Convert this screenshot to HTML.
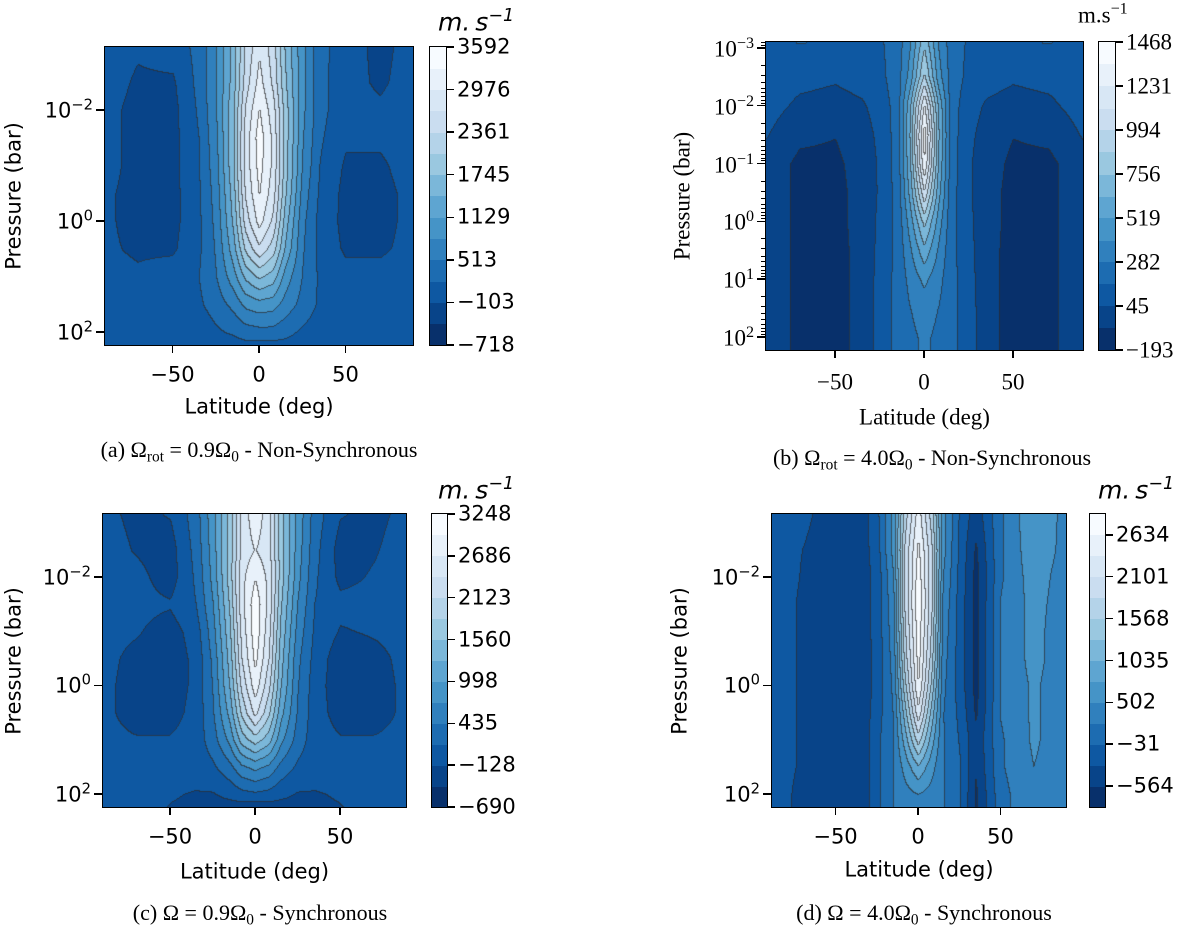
<!DOCTYPE html>
<html><head><meta charset="utf-8">
<style>
body{margin:0;width:1200px;height:926px;background:#fff;position:relative;overflow:hidden}
.t{position:absolute;white-space:nowrap;line-height:1;color:#000}
.dj{font-family:"DejaVu Sans","Liberation Sans",sans-serif}
.sf{font-family:"Liberation Serif","DejaVu Serif",serif}
sup{font-size:0.7em;vertical-align:0.55em;line-height:0}
sub{font-size:0.7em;vertical-align:-0.3em;line-height:0}
.ln{position:absolute;background:#000}
</style></head>
<body>
<div id="root"></div>
<script>
const latNodes=[-90,-70,-50,-35,-25,-15,-8,0,8,15,25,35,50,70,90];
const logpNodes=[-3.2,-2.5,-2,-1.5,-1,-0.5,0,0.5,1,1.5,2,2.3];

const windA=[
[50,-50,50,300,800,1600,2400,2900,2500,1700,900,300,50,-200,50],
[50,-150,-150,300,800,1600,2500,3100,2600,1800,900,300,0,-150,50],
[0,-200,-200,250,800,1700,2700,3300,2800,1900,900,300,0,-50,50],
[0,-200,-200,200,750,1700,2800,3450,2900,1900,850,250,-50,-50,50],
[0,-200,-200,200,700,1700,2800,3400,2900,1900,800,200,-150,-150,50],
[-50,-200,-200,150,650,1600,2700,3300,2800,1800,700,150,-200,-200,0],
[-50,-200,-200,150,600,1500,2500,3100,2600,1600,600,100,-200,-200,0],
[-50,-150,-150,150,550,1300,2100,2600,2200,1400,550,100,-150,-150,0],
[0,-50,50,200,500,1000,1500,1800,1600,1000,500,150,0,0,50],
[50,50,50,150,350,600,900,1000,950,700,400,150,50,50,50],
[50,50,0,0,150,250,350,400,400,300,150,50,50,50,50],
[50,50,50,-50,-50,0,50,0,0,50,50,50,50,50,50]];
const windB=[
[150,180,170,120,150,220,380,700,380,220,150,120,170,180,150],
[120,80,60,90,130,230,450,900,450,230,130,90,60,80,120],
[100,20,0,30,90,220,620,1250,620,220,90,30,0,20,100],
[60,-50,-70,0,70,220,650,1420,650,220,70,0,-70,-50,60],
[0,-100,-100,-20,60,220,620,1350,620,220,60,-20,-100,-100,0],
[0,-100,-110,-30,60,210,560,1100,560,210,60,-30,-110,-100,0],
[0,-100,-110,-30,70,200,460,800,460,200,70,-30,-110,-100,0],
[0,-100,-110,-40,80,200,380,600,380,200,80,-40,-110,-100,0],
[0,-100,-110,-40,90,200,320,430,320,200,90,-40,-110,-100,0],
[0,-100,-110,-40,100,200,280,330,280,200,100,-40,-110,-100,0],
[0,-100,-110,-40,100,200,260,300,260,200,100,-40,-110,-100,0],
[0,-100,-110,-40,100,200,260,300,260,200,100,-40,-110,-100,0]];
const windC=[
[-50,-200,-100,300,900,1700,2500,2900,2500,1700,900,300,-100,-200,-50],
[0,-150,-250,250,850,1700,2500,2700,2500,1700,850,250,-250,-150,0],
[0,-50,-250,200,800,1700,2600,2950,2600,1700,800,200,-200,-100,0],
[-50,-50,-100,150,700,1600,2600,3150,2600,1600,700,150,-50,-50,-50],
[-50,-100,-250,0,600,1500,2500,3150,2500,1500,600,100,-150,-100,-50],
[-50,-200,-300,-50,500,1400,2400,3050,2400,1400,500,50,-300,-200,-50],
[-50,-250,-300,-50,450,1300,2200,2850,2200,1300,450,0,-300,-250,-50],
[-50,-250,-250,-20,400,1100,1900,2500,1900,1100,400,0,-250,-250,-50],
[-50,-100,-100,0,300,800,1400,1700,1400,800,300,0,-100,-100,-50],
[0,0,0,0,100,350,650,800,650,350,100,0,0,0,0],
[0,0,-100,-150,-150,-50,50,100,50,-50,-150,-150,-100,0,0],
[0,0,-150,-200,-250,-300,-350,-420,-350,-300,-250,-200,-150,0,0]];
const windD=[
[-150,-250,-400,-450,-100,600,1700,2500,1700,600,-50,-450,200,750,400],
[-150,-300,-420,-450,-150,600,1900,2700,1900,600,-100,-600,200,700,400],
[-100,-320,-450,-450,-200,500,1900,2800,1900,500,-100,-650,200,650,350],
[-100,-350,-450,-450,-200,450,1900,2850,1900,450,-150,-650,250,600,350],
[-100,-350,-450,-450,-200,400,1800,2800,1800,400,-150,-650,250,600,300],
[-100,-350,-480,-480,-200,350,1700,2750,1700,350,-150,-650,250,600,300],
[-100,-350,-500,-500,-200,300,1500,2650,1500,300,-150,-650,250,550,300],
[-100,-350,-500,-500,-150,250,1200,2300,1200,250,-100,-600,250,550,300],
[-100,-350,-500,-500,-100,250,900,1700,900,250,-50,-500,200,550,300],
[-100,-350,-500,-500,-100,250,600,1000,600,250,0,-550,200,500,300],
[-100,-400,-520,-520,-100,250,400,500,400,250,0,-600,150,450,300],
[-100,-400,-520,-520,-100,250,350,400,350,250,0,-600,150,450,300]];

const levelsA=[-718,-410,-103,205,513,821,1129,1437,1745,2053,2361,2668,2976,3284,3592];
const levelsB=[-193,-74,45,163,282,400,519,637,756,875,994,1112,1231,1350,1468];
const levelsC=[-690,-409,-128,154,435,716,998,1279,1560,1842,2123,2404,2686,2967,3248];
const levelsD=[-831,-564,-298,-31,235,502,768,1035,1301,1568,1835,2101,2368,2634,2901];
const cbTicksA=[-718,-103,513,1129,1745,2361,2976,3592];
const cbTicksB=[-193,45,282,519,756,994,1231,1468];
const cbTicksC=[-690,-128,435,998,1560,2123,2686,3248];
const cbTicksD=[-564,-31,502,1035,1568,2101,2634];
const latTicks=[-50,0,50];
const pTicksACD=[-2,0,2];
const pTicksB=[-3,-2,-1,0,1,2];

const panels=[
 {id:'a',wind:windA,levels:levelsA,cb:cbTicksA,pt:pTicksACD,px:105,py:47,pw:308,ph:298,lat0:-89,lat1:89,lp0:-3.135,lp1:2.234,cbx:430,cbw:16,serif:false,fs:21,
  tickY:375,xlabY:407,ylabX:14,unitX:438,unitY:22,capX:259,capY:450,cap:'(a) Ω<sub>rot</sub> = 0.9Ω<sub>0</sub> - Non-Synchronous'},
 {id:'b',wind:windB,levels:levelsB,cb:cbTicksB,pt:pTicksB,px:766,py:42,pw:317,ph:308,lat0:-88.8,lat1:89.3,lp0:-3.104,lp1:2.225,cbx:1099,cbw:16,serif:true,fs:23,minor:true,
  tickY:382,xlabY:417,ylabX:682,unitX:1078,unitY:15,capX:932,capY:458,cap:'(b) Ω<sub>rot</sub> = 4.0Ω<sub>0</sub> - Non-Synchronous'},
 {id:'c',wind:windC,levels:levelsC,cb:cbTicksC,pt:pTicksACD,px:103,py:514,pw:303,ph:293,lat0:-89.4,lat1:88.8,lp0:-3.16,lp1:2.24,cbx:432,cbw:15,serif:false,fs:21,
  tickY:837,xlabY:872,ylabX:14,unitX:438,unitY:490,capX:260,capY:913,cap:'(c) Ω = 0.9Ω<sub>0</sub> - Synchronous'},
 {id:'d',wind:windD,levels:levelsD,cb:cbTicksD,pt:pTicksACD,px:772,py:514,pw:294,ph:293,lat0:-88.5,lat1:89.7,lp0:-3.16,lp1:2.24,cbx:1090,cbw:15,serif:false,fs:21,
  tickY:837,xlabY:870,ylabX:680,unitX:1098,unitY:490,capX:924,capY:913,cap:'(d) Ω = 4.0Ω<sub>0</sub> - Synchronous'}
];

const anchors=[[247,251,255],[222,235,247],[198,219,239],[158,202,225],[107,174,214],[66,146,198],[33,113,181],[8,81,156],[8,48,107]];
function blues(t){t=Math.max(0,Math.min(1,t));const s=t*(anchors.length-1);const i=Math.min(anchors.length-2,Math.floor(s));const f=s-i;
 return anchors[i].map((c,k)=>Math.round(c+(anchors[i+1][k]-c)*f));}
function bandColor(i,n){return blues(1-i/(n-1));}
function idx(nodes,v){let i=0;while(i<nodes.length-2&&v>nodes[i+1])i++;let f=(v-nodes[i])/(nodes[i+1]-nodes[i]);f=Math.max(0,Math.min(1,f));return [i,f];}
function interp(g,lat,lp){const [i,fi]=idx(latNodes,lat);const [j,fj]=idx(logpNodes,lp);
 const a=g[j][i],b=g[j][i+1],c=g[j+1][i],d=g[j+1][i+1];return (a*(1-fi)+b*fi)*(1-fj)+(c*(1-fi)+d*fi)*fj;}
function fmt(v){return v<0?'−'+Math.abs(v):String(v);}

const root=document.getElementById('root');
function el(tag,cls,style,html,name){const e=document.createElement(tag);if(cls)e.className=cls;e.style.cssText=style;if(html!==undefined)e.innerHTML=html;
 
 
 root.appendChild(e);return e;}

panels.forEach(P=>{
 const n=P.levels.length-1;
 const font=P.serif?'sf':'dj';
 const xOf=lat=>P.px+(lat-P.lat0)/(P.lat1-P.lat0)*P.pw;
 const yOf=lp=>P.py+(lp-P.lp0)/(P.lp1-P.lp0)*P.ph;
 const cv=document.createElement('canvas');cv.width=P.pw;cv.height=P.ph;
 cv.style.cssText=`position:absolute;left:${P.px}px;top:${P.py}px;width:${P.pw}px;height:${P.ph}px`;
 
 
 root.appendChild(cv);
 const ctx=cv.getContext('2d');const img=ctx.createImageData(P.pw,P.ph);
 const band=new Int16Array(P.pw*P.ph);
 for(let y=0;y<P.ph;y++){const lp=P.lp0+(y+0.5)/P.ph*(P.lp1-P.lp0);
  for(let x=0;x<P.pw;x++){const lat=P.lat0+(x+0.5)/P.pw*(P.lat1-P.lat0);
   const v=interp(P.wind,lat,lp);let b=0;while(b<n-1&&v>=P.levels[b+1])b++;band[y*P.pw+x]=b;}}
 for(let y=0;y<P.ph;y++)for(let x=0;x<P.pw;x++){const k=y*P.pw+x;const b=band[k];let c=bandColor(b,n);
  const edge=(x>0&&band[k-1]!==b)||(y>0&&band[k-P.pw]!==b);
  if(edge){c=c.map(v=>Math.round(v*0.3+45*0.7));}
  img.data[k*4]=c[0];img.data[k*4+1]=c[1];img.data[k*4+2]=c[2];img.data[k*4+3]=255;}
 ctx.putImageData(img,0,0);
 el('div','',`position:absolute;left:${P.px-1}px;top:${P.py-1}px;width:${P.pw+2}px;height:${P.ph+2}px;border:1.5px solid #000;box-sizing:border-box`,undefined,'plot-frame-'+P.id);
 latTicks.forEach(t=>{const x=xOf(t);
  el('div','ln',`left:${x-0.7}px;top:${P.py+P.ph}px;width:1.4px;height:8px`,undefined,'x-tick-'+P.id);
  el('div','t '+font,`left:${x}px;top:${P.tickY}px;font-size:${P.fs}px;transform:translate(-50%,-50%)`,fmt(t),'x-tick-label-'+P.id);});
 el('div','t '+font,`left:${P.px+P.pw/2}px;top:${P.xlabY}px;font-size:${P.fs}px;transform:translate(-50%,-50%)`,'Latitude (deg)','x-axis-title-'+P.id);
 P.pt.forEach(t=>{const y=yOf(t);
  el('div','ln',`left:${P.px-9}px;top:${y-0.7}px;width:9px;height:1.4px`,undefined,'y-tick-'+P.id);
  el('div','t '+font,`left:${P.px-12}px;top:${y}px;font-size:${P.fs}px;transform:translate(-100%,-45%)`,'10<sup>'+fmt(t)+'</sup>','y-tick-label-'+P.id);});
 if(P.minor){for(let d=Math.floor(P.lp0);d<=Math.ceil(P.lp1);d++)for(let m=2;m<10;m++){const lp=d+Math.log10(m);if(lp<P.lp0||lp>P.lp1)continue;const y=yOf(lp);
  el('div','ln',`left:${P.px-5}px;top:${y-0.5}px;width:5px;height:1px`,undefined,'y-minor-tick-'+P.id);}}
 el('div','t '+font,`left:${P.ylabX}px;top:${P.py+P.ph/2}px;font-size:${P.fs}px;transform:translate(-50%,-50%) rotate(-90deg)`,'Pressure (bar)','y-axis-title-'+P.id);
 const cy=v=>P.py+P.ph-(v-P.levels[0])/(P.levels[n]-P.levels[0])*P.ph;
 for(let i=0;i<n;i++){const c=bandColor(i,n);const t1=cy(P.levels[i+1]),t0=cy(P.levels[i]);
  el('div','',`position:absolute;left:${P.cbx}px;top:${t1}px;width:${P.cbw}px;height:${t0-t1+0.5}px;background:rgb(${c})`,undefined,'colorbar-band-'+P.id);}
 el('div','',`position:absolute;left:${P.cbx-1}px;top:${P.py-1}px;width:${P.cbw+2}px;height:${P.ph+2}px;border:1.5px solid #000;box-sizing:border-box`,undefined,'colorbar-frame-'+P.id);
 P.cb.forEach(v=>{const y=cy(v);
  el('div','ln',`left:${P.cbx+P.cbw}px;top:${y-0.7}px;width:8px;height:1.4px`,undefined,'colorbar-tick-'+P.id);
  el('div','t '+font,`left:${P.cbx+P.cbw+11}px;top:${y}px;font-size:${P.fs}px;transform:translateY(-50%)`,fmt(v),'colorbar-tick-label-'+P.id);});
 el('div','t '+font,`left:${P.unitX}px;top:${P.unitY}px;font-size:${P.serif?23:25}px;transform:translateY(-50%);font-style:${P.serif?'normal':'italic'}`,P.serif?'m.s<sup>−1</sup>':'m.&thinsp;s<sup>−1</sup>','colorbar-unit-'+P.id);
 el('div','t sf',`left:${P.capX}px;top:${P.capY}px;font-size:22px;transform:translate(-50%,-50%)`,P.cap,'caption-'+P.id);
});
</script>
</body></html>
